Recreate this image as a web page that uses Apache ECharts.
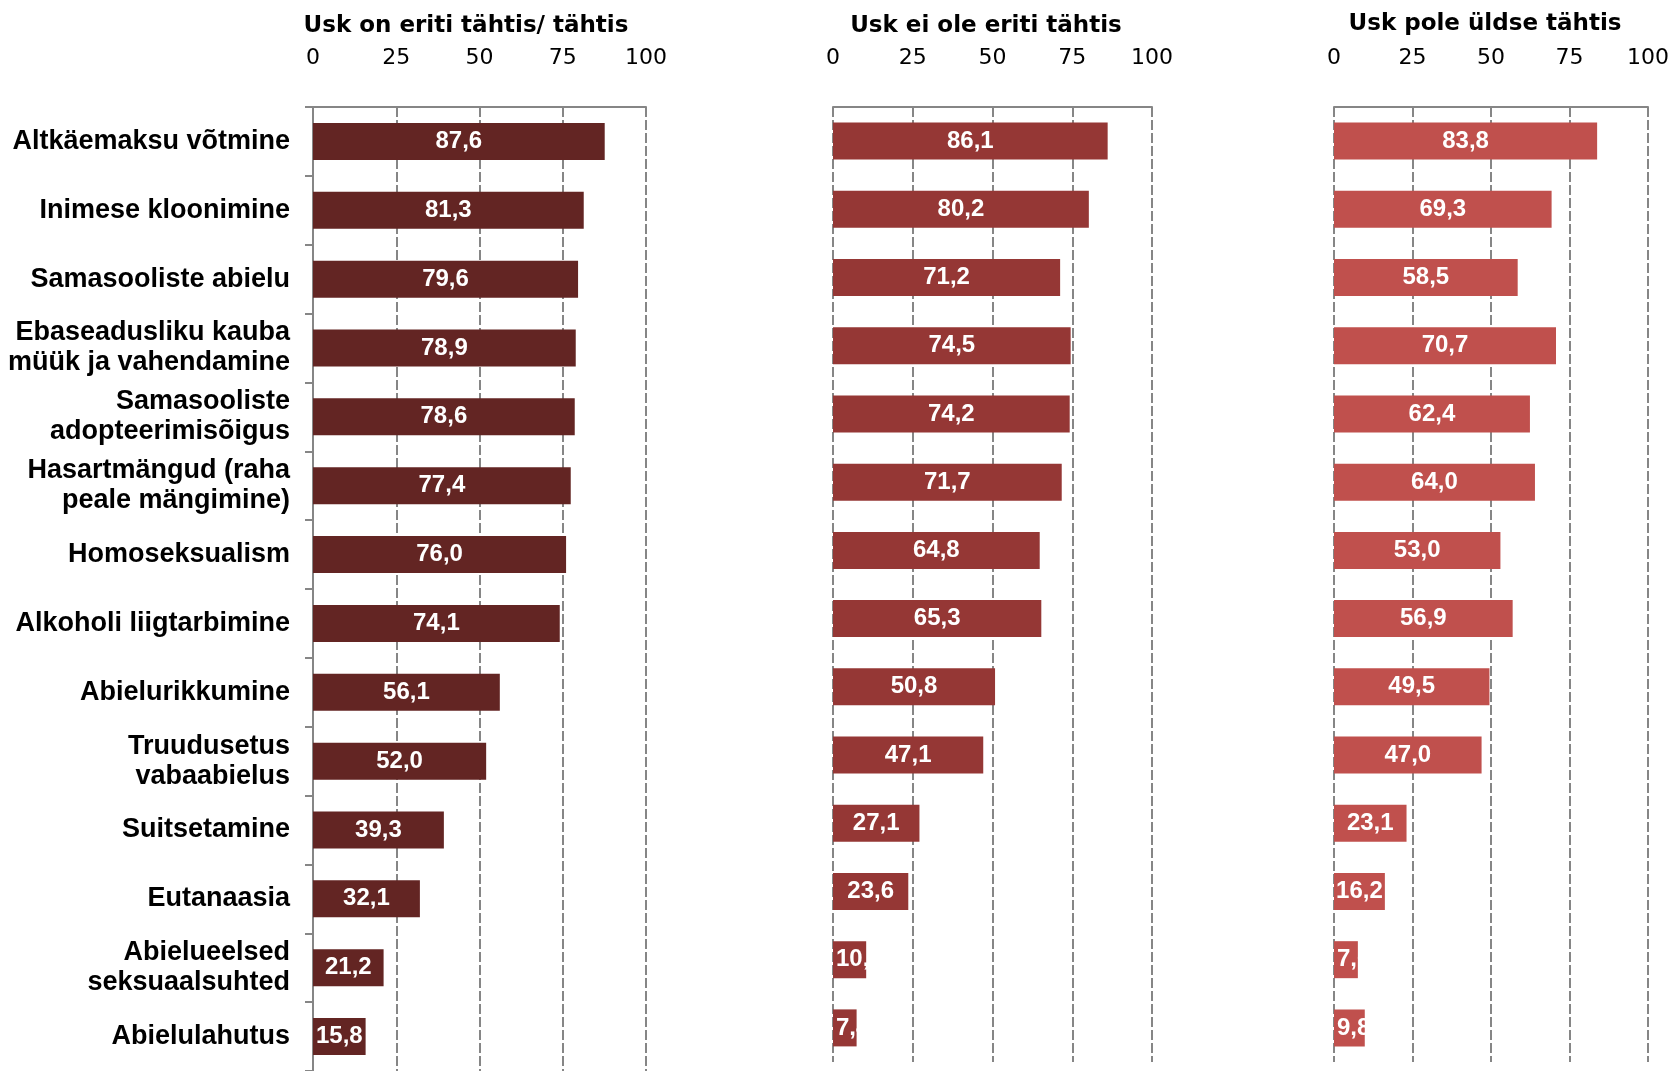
<!DOCTYPE html>
<html>
<head>
<meta charset="utf-8">
<title>Usk</title>
<script src="https://cdn.jsdelivr.net/npm/echarts@6/dist/echarts.min.js"></script>
<style>
  html, body { margin: 0; padding: 0; background: #ffffff; }
  #main { width: 1672px; height: 1071px; }
</style>
</head>
<body>
<div id="main"></div>
<script>
// kategooriad (ülevalt alla)
var categories = [
  'Altkäemaksu võtmine',
  'Inimese kloonimine',
  'Samasooliste abielu',
  'Ebaseadusliku kauba\nmüük ja vahendamine',
  'Samasooliste\nadopteerimisõigus',
  'Hasartmängud (raha\npeale mängimine)',
  'Homoseksualism',
  'Alkoholi liigtarbimine',
  'Abielurikkumine',
  'Truudusetus\nvabaabielus',
  'Suitsetamine',
  'Eutanaasia',
  'Abielueelsed\nseksuaalsuhted',
  'Abielulahutus'
]

var panelTitles = ['Usk on eriti tähtis/ tähtis', 'Usk ei ole eriti tähtis', 'Usk pole üldse tähtis']
var tickValues = [0, 25, 50, 75, 100]

var valuesTahtis = [87.6, 81.3, 79.6, 78.9, 78.6, 77.4, 76.0, 74.1, 56.1, 52.0, 39.3, 32.1, 21.2, 15.8]
var valuesEiOleEriti = [86.1, 80.2, 71.2, 74.5, 74.2, 71.7, 64.8, 65.3, 50.8, 47.1, 27.1, 23.6, 10.4, 7.4]
var valuesPoleUldse = [83.8, 69.3, 58.5, 70.7, 62.4, 64.0, 53.0, 56.9, 49.5, 47.0, 23.1, 16.2, 7.6, 9.8]

var chart = echarts.init(document.getElementById('main'))

var grey = '#868686'
var colors = ['#632523', '#953735', '#C0504D']
var grids = [
  { left: 313, top: 107, width: 333, height: 969 },
  { left: 833, top: 107, width: 319, height: 955 },
  { left: 1334, top: 107, width: 314, height: 955 }
]
var titleX = [461, 981, 1480]
var titleY = [10, 10, 8]

function fmt(v) {
  return v.toFixed(1).replace('.', ',')
}

// lühikeste tulpade silt vasakule
function barData(values) {
  return values.map(function (v) {
    var item = { value: v }
    if (v < 12) {
      item.label = { position: 'insideLeft', distance: 3 }
    }
    return item
  })
}

var allValues = [valuesTahtis, valuesEiOleEriti, valuesPoleUldse]

var xAxes = [], yAxes = [], series = [], titles = []
for (var i = 0; i < 3; i++) {
  xAxes.push({
    type: 'value',
    gridIndex: i,
    position: 'top',
    min: tickValues[0],
    max: tickValues[tickValues.length - 1],
    interval: 25,
    axisLine: { show: true, lineStyle: { color: grey, width: 2 } },
    axisTick: { show: false },
    axisLabel: {
      margin: 38,
      color: '#000',
      fontSize: 22,
      fontFamily: 'DejaVu Sans'
    },
    splitLine: {
      show: true,
      lineStyle: { color: grey, width: 2, type: [10, 3] }
    }
  })
  yAxes.push({
    type: 'category',
    gridIndex: i,
    inverse: true,
    data: categories,
    axisLine: { show: i === 0, lineStyle: { color: grey, width: 2 } },
    axisTick: { show: i === 0, length: 8, lineStyle: { color: grey, width: 2 } },
    axisLabel: {
      show: i === 0,
      margin: 23,
      color: '#000',
      fontSize: 27,
      fontWeight: 'bold',
      fontFamily: 'Liberation Sans',
      lineHeight: 30,
      align: 'right'
    }
  })
  series.push({
    type: 'bar',
    xAxisIndex: i,
    yAxisIndex: i,
    data: barData(allValues[i]),
    barWidth: 37,
    itemStyle: { color: colors[i] },
    label: {
      show: true,
      position: 'inside',
      color: '#fff',
      fontSize: 24,
      fontWeight: 'bold',
      fontFamily: 'Liberation Sans',
      formatter: function (p) { return fmt(p.value) }
    }
  })
  titles.push({
    text: panelTitles[i],
    left: titleX[i],
    top: titleY[i],
    textAlign: 'center',
    textStyle: {
      color: '#000',
      fontSize: 23,
      fontWeight: 'bold',
      fontFamily: 'DejaVu Sans'
    }
  })
}

var option = {
  backgroundColor: '#fff',
  animation: false,
  title: titles,
  grid: grids,
  xAxis: xAxes,
  yAxis: yAxes,
  series: series
}
chart.setOption(option)
</script>
</body>
</html>
